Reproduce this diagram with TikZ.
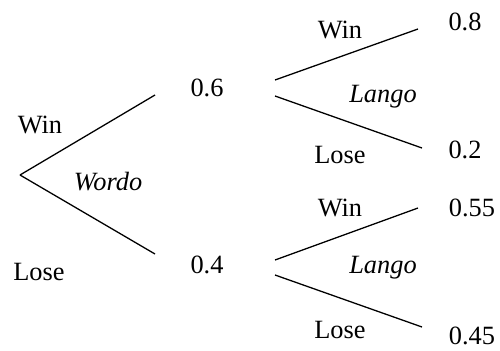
\documentclass[tikz,border=0pt]{standalone}
\usepackage{fontspec}
\setmainfont{Liberation Serif}[Extension=.ttf,UprightFont=LiberationSerif-Regular,ItalicFont=LiberationSerif-Italic]
\usepackage{tikz}
\usetikzlibrary{positioning}

\begin{document}
\begin{tikzpicture}[x=0.03cm,y=0.03cm,
  lab/.style={font=\fontsize{22.5}{26}\selectfont,inner sep=0pt},
  game/.style={lab,font=\fontsize{22.5}{26}\selectfont\itshape},
  branch/.style={line width=1.1pt}]
\useasboundingbox (0,0) rectangle (500,350);
% first game
\coordinate (root) at (20,175);
\coordinate (w1) at (155,255);
\coordinate (l1) at (155,96);
\node[lab] (pw) at (207,262) {0.6};
\node[lab] (pl) at (207,85) {0.4};
\node[lab] (win0) at (40,225) {Win};
\node[lab] (lose0) at (39,78) {Lose};
\node[game] (wordo) at (108,168) {Wordo};
\draw[branch] (root) -- (w1);
\draw[branch] (root) -- (l1);
% second game after a win
\coordinate (a1) at (275,270);
\coordinate (a2) at (418,321);
\coordinate (a3) at (275,254);
\coordinate (a4) at (422,202);
\node[lab] (pww) at (465,328) {0.8};
\node[lab] (pwl) at (465,200) {0.2};
\node[lab] (win1) at (340,320) {Win};
\node[game] (lango1) at (383,253) {Lango};
\node[lab] (lose1) at (340,195) {Lose};
\draw[branch] (a1) -- (a2);
\draw[branch] (a3) -- (a4);
% second game after a loss
\coordinate (b1) at (275,90);
\coordinate (b2) at (418,142);
\coordinate (b3) at (275,75);
\coordinate (b4) at (422,23);
\node[lab] (plw) at (472,142) {0.55};
\node[lab] (pll) at (472,14) {0.45};
\node[lab] (win2) at (340,142) {Win};
\node[game] (lango2) at (383,82) {Lango};
\node[lab] (lose2) at (340,20) {Lose};
\draw[branch] (b1) -- (b2);
\draw[branch] (b3) -- (b4);
\end{tikzpicture}
\end{document}
